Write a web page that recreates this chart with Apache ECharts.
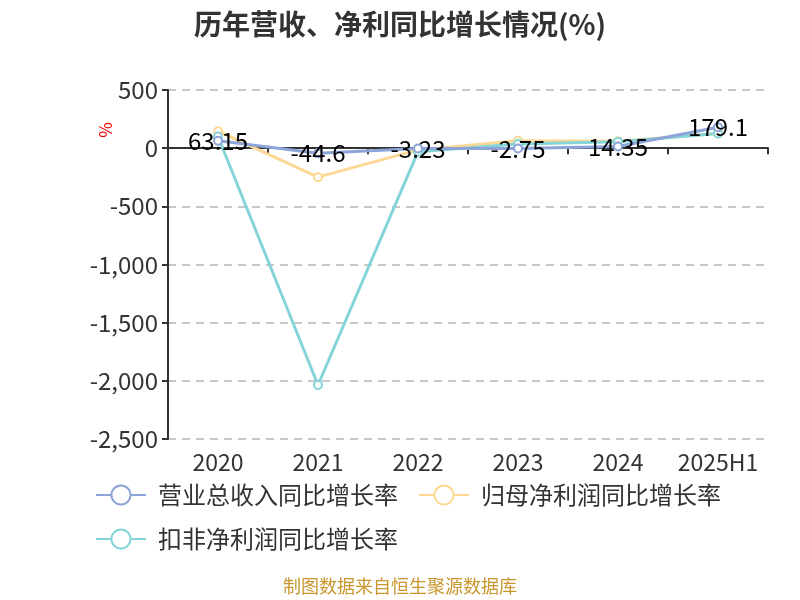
<!DOCTYPE html>
<html>
<head>
<meta charset="utf-8">
<script src="https://cdn.jsdelivr.net/npm/echarts@6/dist/echarts.min.js"></script>
<style>
  html, body { margin: 0; padding: 0; background: #fff; }
  #main { width: 800px; height: 600px; }
</style>
</head>
<body>
<div id="main"></div>
<script>
// 数据
var years = ['2020', '2021', '2022', '2023', '2024', '2025H1'];
var revenueGrowth = [63.15, -44.6, -3.23, -2.75, 14.35, 179.1];
var netProfitGrowth = [146, -249, -15, 63, 60, 127];
var deductedGrowth = [100, -2036, -30, 36, 56, 127];
var seriesNames = ['营业总收入同比增长率', '归母净利润同比增长率', '扣非净利润同比增长率'];

var font = '"Noto Sans CJK SC", "Noto Sans", sans-serif';
var chart = echarts.init(document.getElementById('main'));

function lineSeries(name, data, color, withLabel) {
  return {
    name: name,
    type: 'line',
    data: data,
    symbol: 'emptyCircle',
    symbolSize: 8,
    lineStyle: { width: 3, color: color },
    itemStyle: { color: color, borderWidth: 2 },
    label: {
      show: withLabel,
      position: 'inside',
      color: '#000',
      fontSize: 24,
      fontFamily: font
    }
  };
}

chart.setOption({
  animation: false,
  title: {
    text: '历年营收、净利同比增长情况(%)',
    left: 'center',
    top: 5,
    textStyle: { fontSize: 28, fontWeight: 'bold', color: '#333', fontFamily: font }
  },
  color: ['#8da4d9', '#fcd894', '#85d4d8'],
  legend: {
    data: seriesNames,
    left: 90,
    top: 478,
    width: 660,
    itemWidth: 50,
    itemHeight: 24,
    itemGap: 20,
    textStyle: { fontSize: 24, color: '#333', fontFamily: font, padding: [0, 0, 0, 7] }
  },
  grid: { left: 168, right: 32, top: 90, bottom: 161 },
  graphic: [
    {
      type: 'text',
      left: 97,
      top: 122,
      rotation: Math.PI / 2,
      style: { text: '%', fill: '#e00', fontSize: 17, fontFamily: font }
    },
    {
      type: 'text',
      left: 'center',
      top: 577,
      style: { text: '制图数据来自恒生聚源数据库', fill: '#c9962e', fontSize: 18, fontFamily: font }
    }
  ],
  xAxis: [
    {
      type: 'category',
      data: years,
      axisLine: { show: false, onZero: false },
      axisTick: { show: false },
      axisLabel: { interval: 0, fontSize: 23, color: '#333', margin: 12, fontFamily: font }
    },
    {
      type: 'category',
      data: years,
      position: 'bottom',
      axisLine: { show: true, onZero: true, lineStyle: { color: '#333', width: 2 } },
      axisTick: { show: true, interval: 0, length: 6, lineStyle: { color: '#333', width: 2 } },
      axisLabel: { show: false, interval: 0 }
    }
  ],
  yAxis: {
    type: 'value',
    min: -2500,
    max: 500,
    interval: 500,
    axisLine: { show: true, lineStyle: { color: '#333', width: 2 } },
    axisTick: { show: true, length: 6, lineStyle: { color: '#333', width: 2 } },
    axisLabel: { fontSize: 24, color: '#333', fontFamily: font, margin: 10 },
    splitLine: { lineStyle: { type: [8, 6], color: '#c8c8c8', width: 2 } }
  },
  series: [
    lineSeries(seriesNames[1], netProfitGrowth, '#fcd894', false),
    lineSeries(seriesNames[2], deductedGrowth, '#85d4d8', false),
    lineSeries(seriesNames[0], revenueGrowth, '#8da4d9', true)
  ]
});
</script>
</body>
</html>
